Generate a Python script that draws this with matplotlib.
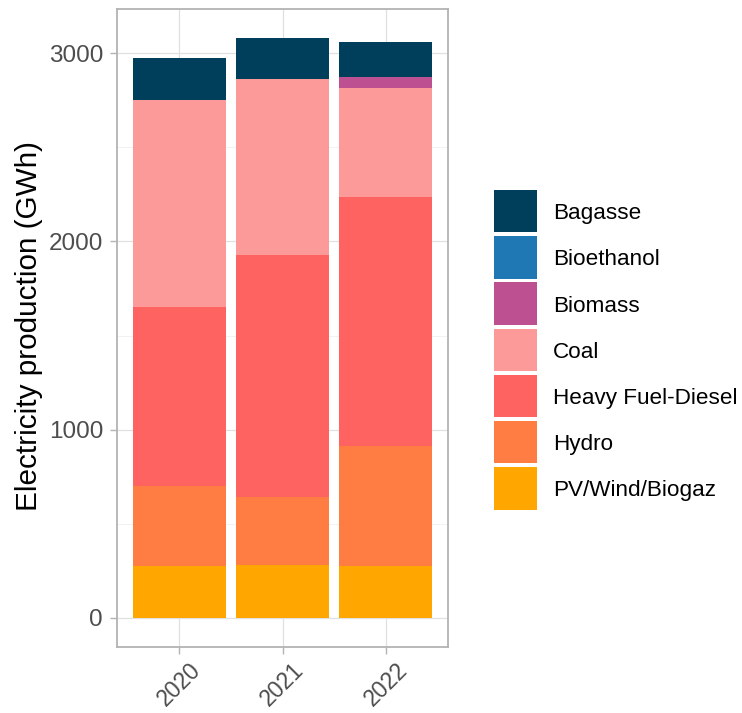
import matplotlib
matplotlib.use("Agg")
import matplotlib.pyplot as plt
from matplotlib.patches import Rectangle
import numpy as np

plt.rcParams['font.family'] = ['Liberation Sans', 'DejaVu Sans']

years = ["2020", "2021", "2022"]
# stacking order bottom -> top
sources = ["PV/Wind/Biogaz", "Hydro", "Heavy Fuel-Diesel", "Coal", "Biomass", "Bioethanol", "Bagasse"]
pv_wind_biogaz = [277, 284, 277]
hydro = [426, 357, 636]
heavy_fuel_diesel = [950, 1288, 1326]
coal = [1098, 932, 579]
biomass = [0, 0, 54]
bioethanol = [0, 0, 0]
bagasse = [222, 220, 186]
values = [pv_wind_biogaz, hydro, heavy_fuel_diesel, coal, biomass, bioethanol, bagasse]
colors = {
    "Bagasse": "#003F5C",
    "Bioethanol": "#1F78B4",
    "Biomass": "#BC5090",
    "Coal": "#FB9A99",
    "Heavy Fuel-Diesel": "#FF6361",
    "Hydro": "#FF7C43",
    "PV/Wind/Biogaz": "#FFA600",
}
legend_order = ["Bagasse", "Bioethanol", "Biomass", "Coal", "Heavy Fuel-Diesel", "Hydro", "PV/Wind/Biogaz"]

W, H = 742, 713
fig = plt.figure(figsize=(W/100, H/100), dpi=100)
ax = fig.add_axes([117/W, 1-647/H, (448-117)/W, (647-9)/H])

x = np.arange(1, len(years)+1)
bottom = np.zeros(len(years))
for name, vals in zip(sources, values):
    v = np.array(vals, dtype=float)
    ax.bar(x, v, bottom=bottom, width=0.9, color=colors[name], linewidth=0, zorder=3, label=name)
    bottom += v

total_max = bottom.max()
ax.set_ylim(-0.05*total_max, total_max*1.05)
ax.set_xlim(0.4, 3.6)
ax.set_xticks(x)
ax.set_xticklabels(years, rotation=45, ha='center', va='top')
ax.set_yticks([0, 1000, 2000, 3000])
ax.set_yticks([500, 1500, 2500], minor=True)
ax.grid(True, which='major', color='#E0E0E0', linewidth=0.9, zorder=0)
ax.grid(True, which='minor', axis='y', color='#F0F0F0', linewidth=0.6, zorder=0)
ax.set_axisbelow(True)
for s in ax.spines.values():
    s.set_color('#B3B3B3')
    s.set_linewidth(1.3)
ax.tick_params(axis='y', which='major', color='#B3B3B3', length=5, width=1.0,
               labelsize=17.5, labelcolor='#4D4D4D', pad=5)
ax.tick_params(axis='x', which='major', color='#B3B3B3', length=5, width=1.0,
               labelsize=16.5, labelcolor='#4D4D4D', pad=3)
ax.tick_params(axis='y', which='minor', length=0)

fig.text(29/W, 1-326/H, "Electricity production (GWh)", rotation=90,
         ha='center', va='center', fontsize=21.4, color='black')

# legend drawn as keys + labels in figure pixel space
key_x, key_w, key_h, pitch, top0 = 494, 43, 42.3, 46.2, 190
for i, name in enumerate(legend_order):
    top = top0 + pitch*i
    fig.patches.append(Rectangle((key_x/W, 1-(top+key_h)/H), key_w/W, key_h/H,
                                 transform=fig.transFigure, facecolor=colors[name],
                                 edgecolor='none'))
    fig.text(553/W, 1-(top+key_h/2)/H, name, ha='left', va='center_baseline',
             fontsize=16.2, color='black')

fig.savefig("out.png", dpi=100)
